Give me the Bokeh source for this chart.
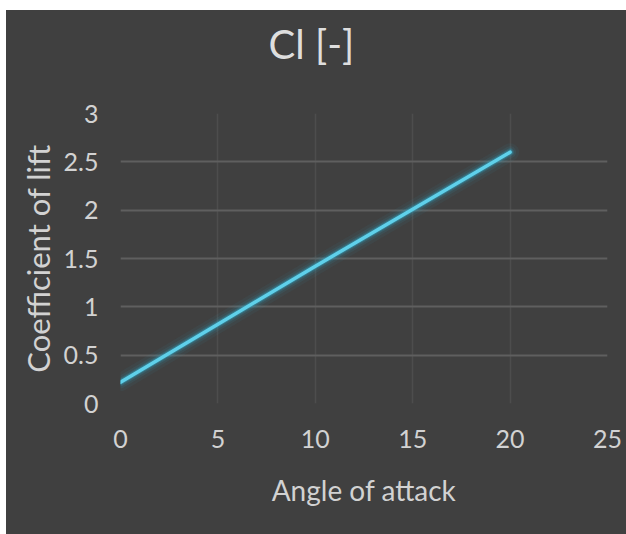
from bokeh.plotting import figure
from bokeh.models import FixedTicker, Range1d, ColumnDataSource
from bokeh.layouts import column
from bokeh.core.properties import value
from bokeh.embed import file_html
from bokeh.resources import INLINE

# ---- data ----
angle = [0, 5, 10, 15, 20]
cl = [0.22, 0.82, 1.42, 2.01, 2.60]
x_ticks = [0, 5, 10, 15, 20, 25]
y_ticks = [0, 0.5, 1, 1.5, 2, 2.5, 3]
y_tick_labels = ["0", "0.5", "1", "1.5", "2", "2.5", "3"]
title_text = "Cl [-]"
x_label = "Angle of attack"
y_label = "Coefficient of lift"

BG = "#404040"
TEXT = "#d2d2d2"
FONT = "Lato"

# ---- title strip (top of the dark panel) ----
t = figure(
    width=620, height=88, x_range=Range1d(0, 1), y_range=Range1d(0, 1),
    x_axis_type=None, y_axis_type=None, output_backend="svg",
    toolbar_location=None, min_border=0,
    background_fill_color=None, border_fill_color=BG, outline_line_color=None,
)
t.text(x=[0.392], y=[0.625], text=[title_text], text_align="center",
       text_baseline="middle", text_font=value(FONT),
       text_font_size="40px", text_color="#dedede")

# ---- main chart ----
src = ColumnDataSource(data=dict(x=angle, y=cl))

p = figure(
    width=620, height=436,
    x_range=Range1d(0, 25), y_range=Range1d(0, 3),
    output_backend="svg", toolbar_location=None,
    min_border_left=114, min_border_right=19,
    min_border_top=15, min_border_bottom=131,
    background_fill_color=BG, border_fill_color=BG,
    outline_line_color=None,
)

# glow + line
for w, a in [(18, 0.06), (12, 0.10), (8, 0.18), (5.5, 0.35)]:
    p.line("x", "y", source=src, line_color="#2fa9c8", line_width=w, line_alpha=a, line_cap="round")
p.line("x", "y", source=src, line_color="#5fd0ea", line_width=3.5, line_cap="round")

# axes
for ax in (p.xaxis[0], p.yaxis[0]):
    ax.axis_line_color = None
    ax.major_tick_line_color = None
    ax.minor_tick_line_color = None
    ax.major_label_text_color = TEXT
    ax.major_label_text_font = FONT
    ax.major_label_text_font_size = "25px"
    ax.axis_label_text_color = TEXT
    ax.axis_label_text_font = FONT
    ax.axis_label_text_font_style = "normal"

p.xaxis.ticker = FixedTicker(ticks=x_ticks)
p.yaxis.ticker = FixedTicker(ticks=y_ticks)
p.yaxis.major_label_overrides = dict(zip(y_ticks, y_tick_labels))

p.xaxis.axis_label = x_label
p.xaxis.axis_label_text_font_size = "28px"
p.xaxis.major_label_standoff = 20
p.xaxis.axis_label_standoff = 22

p.yaxis.axis_label = y_label
p.yaxis.axis_label_text_font_size = "31px"
p.yaxis.major_label_standoff = 16
p.yaxis.axis_label_standoff = 4

# grid
p.ygrid.grid_line_color = "#5f5f5f"
p.ygrid.grid_line_width = 2
p.xgrid.grid_line_color = "#4d4d4d"
p.xgrid.grid_line_width = 1.5

layout = column(t, p, spacing=0, margin=(10, 0, 0, 6),
                styles={"background-color": BG})

open("out.html", "w").write(file_html(layout, INLINE))
